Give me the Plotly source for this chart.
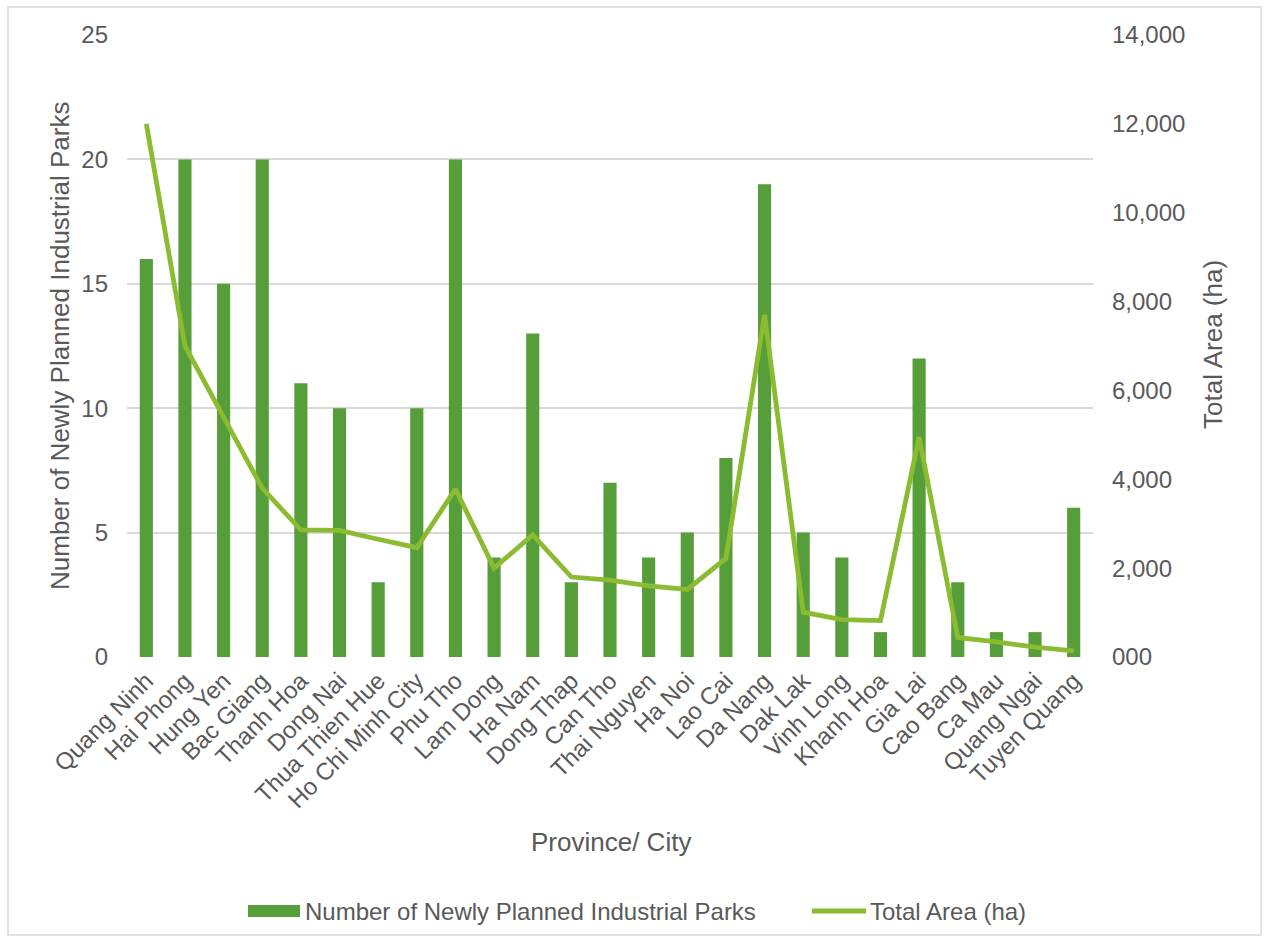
import plotly.graph_objects as go

provinces = [
    "Quang Ninh", "Hai Phong", "Hung Yen", "Bac Giang", "Thanh Hoa", "Dong Nai",
    "Thua Thien Hue", "Ho Chi Minh City", "Phu Tho", "Lam Dong", "Ha Nam",
    "Dong Thap", "Can Tho", "Thai Nguyen", "Ha Noi", "Lao Cai", "Da Nang",
    "Dak Lak", "Vinh Long", "Khanh Hoa", "Gia Lai", "Cao Bang", "Ca Mau",
    "Quang Ngai", "Tuyen Quang",
]
new_parks = [16, 20, 15, 20, 11, 10, 3, 10, 20, 4, 13, 3, 7, 4, 5, 8, 19, 5, 4, 1, 12, 3, 1, 1, 6]
total_area_ha = [12000, 7000, 5400, 3800, 2860, 2850, 2650, 2460, 3780, 2000, 2750,
                 1800, 1730, 1600, 1520, 2220, 7700, 1010, 840, 820, 4950, 440, 340, 220, 140]

left_ticks = [0, 5, 10, 15, 20, 25]
right_ticks = [0, 2000, 4000, 6000, 8000, 10000, 12000, 14000]
right_ticktext = ["000", "2,000", "4,000", "6,000", "8,000", "10,000", "12,000", "14,000"]

BAR_NAME = "Number of Newly Planned Industrial Parks"
LINE_NAME = "Total Area (ha)"

FONT = "Liberation Sans, Arial, sans-serif"
TXT = "#595959"
BAR = "#559E3A"
LINE = "#8BBB30"
GRID = "#D9D9D9"

# plot-area geometry in pixels, used to place the frame, titles and legend keys
L, R, T, B = 127, 1093, 35, 657
W, H = R - L, B - T


def px(x):
    return (x - L) / W


def py(y):
    return (B - y) / H


fig = go.Figure()
fig.add_trace(go.Bar(
    x=provinces, y=new_parks, name=BAR_NAME,
    marker=dict(color=BAR, line=dict(width=0)), yaxis="y", showlegend=False,
))
fig.add_trace(go.Scatter(
    x=provinces, y=total_area_ha, name=LINE_NAME, mode="lines",
    line=dict(color=LINE, width=4.8), yaxis="y2", showlegend=False,
))

fig.update_layout(
    width=1267, height=941,
    margin=dict(l=L, r=1267 - R, t=T, b=941 - B),
    paper_bgcolor="white", plot_bgcolor="white",
    font=dict(family=FONT, color=TXT, size=24),
    bargap=0.66,
    showlegend=False,
    xaxis=dict(
        tickangle=-45, tickfont=dict(size=24, color=TXT), showgrid=False,
        showline=False, ticks="", zeroline=False, ticklabelstandoff=4,
    ),
    yaxis=dict(
        range=[0, 25], tickvals=left_ticks, tickfont=dict(size=24, color=TXT),
        showgrid=True, gridcolor=GRID, gridwidth=1.5, zeroline=False,
        showline=False, ticks="", ticklabelstandoff=18,
    ),
    yaxis2=dict(
        range=[0, 14000], tickvals=right_ticks, ticktext=right_ticktext,
        overlaying="y", side="right", showgrid=False, zeroline=False,
        tickfont=dict(size=24, color=TXT), showline=False, ticks="",
        ticklabelstandoff=18,
    ),
    annotations=[
        dict(text=BAR_NAME, xref="paper", yref="paper",
             x=px(60), y=py(346), textangle=-90, showarrow=False,
             font=dict(size=26, color=TXT), xanchor="center", yanchor="middle"),
        dict(text=LINE_NAME, xref="paper", yref="paper",
             x=px(1213), y=py(345), textangle=-90, showarrow=False,
             font=dict(size=26, color=TXT), xanchor="center", yanchor="middle"),
        dict(text="Province/ City", xref="paper", yref="paper",
             x=px(611), y=py(842), showarrow=False,
             font=dict(size=26, color=TXT), xanchor="center", yanchor="middle"),
        # legend labels
        dict(text=BAR_NAME, xref="paper", yref="paper",
             x=px(303), y=py(911), showarrow=False,
             font=dict(size=24, color=TXT), xanchor="left", yanchor="middle"),
        dict(text=LINE_NAME, xref="paper", yref="paper",
             x=px(868), y=py(911), showarrow=False,
             font=dict(size=24, color=TXT), xanchor="left", yanchor="middle"),
    ],
    shapes=[
        # outer chart frame
        dict(type="rect", xref="paper", yref="paper",
             x0=px(8), x1=px(1261), y0=py(935), y1=py(7),
             line=dict(color=GRID, width=1.5), fillcolor="rgba(0,0,0,0)", layer="below"),
        # legend keys
        dict(type="rect", xref="paper", yref="paper",
             x0=px(248), x1=px(300), y0=py(917), y1=py(905),
             line=dict(width=0), fillcolor=BAR),
        dict(type="line", xref="paper", yref="paper",
             x0=px(812), x1=px(866), y0=py(911), y1=py(911),
             line=dict(color=LINE, width=5)),
    ],
)

fig.write_html("out.html")
